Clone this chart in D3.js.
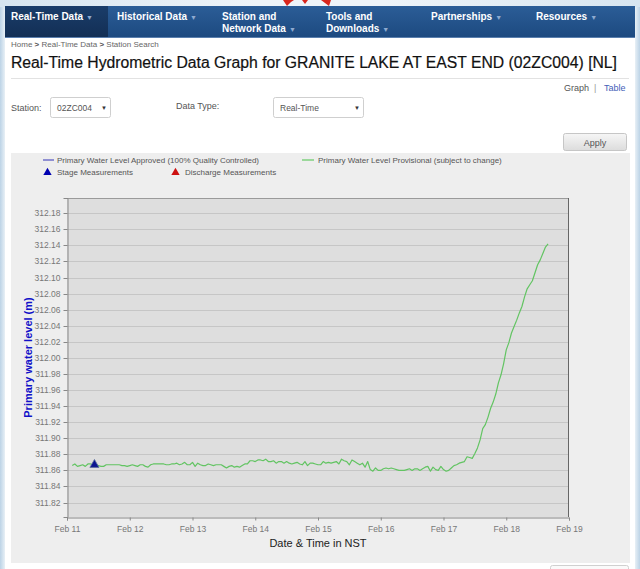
<!DOCTYPE html>
<html>
<head>
<meta charset="utf-8">
<script src="https://cdn.jsdelivr.net/npm/d3@7"></script>
<style>
  html, body { margin: 0; padding: 0; background: #fff; overflow: hidden; }
  svg { display: block; font-family: "Liberation Sans", Arial, sans-serif; }
</style>
</head>
<body>
<svg id="page" width="640" height="569"></svg>
<script>
// ---- Data -------------------------------------------------------------
const stationName = "GRANITE LAKE AT EAST END";
const stationId = "02ZC004";
const navItems = [["Real-Time Data"], ["Historical Data"], ["Station and", "Network Data"],
                  ["Tools and", "Downloads"], ["Partnerships"], ["Resources"]];
const breadcrumb = ["Home", "Real-Time Data", "Station Search"];

// Hourly provisional water level (m), first reading Feb 11 02:00 NST
const seriesStart = "2015-02-11T02:00";
const waterLevel = [
  311.866, 311.868, 311.865, 311.866, 311.867, 311.865, 311.868, 311.868, 311.867, 311.867,
  311.866, 311.865, 311.865, 311.867, 311.867, 311.867, 311.867, 311.867, 311.867, 311.866,
  311.866, 311.865, 311.866, 311.867, 311.866, 311.865, 311.867, 311.867, 311.865, 311.864,
  311.867, 311.868, 311.868, 311.868, 311.868, 311.868, 311.867, 311.867, 311.868, 311.868,
  311.869, 311.867, 311.868, 311.870, 311.867, 311.867, 311.870, 311.865, 311.869, 311.867,
  311.866, 311.866, 311.868, 311.867, 311.866, 311.867, 311.867, 311.867, 311.865, 311.863,
  311.865, 311.866, 311.864, 311.865, 311.864, 311.866, 311.868, 311.868, 311.872, 311.872,
  311.871, 311.873, 311.873, 311.872, 311.874, 311.871, 311.871, 311.872, 311.869, 311.871,
  311.871, 311.869, 311.871, 311.869, 311.868, 311.869, 311.870, 311.868, 311.867, 311.871,
  311.866, 311.869, 311.869, 311.868, 311.867, 311.867, 311.871, 311.869, 311.870, 311.869,
  311.870, 311.871, 311.868, 311.874, 311.872, 311.871, 311.867, 311.873, 311.871, 311.869,
  311.867, 311.869, 311.864, 311.871, 311.861, 311.859, 311.863, 311.860, 311.860, 311.862,
  311.863, 311.862, 311.863, 311.862, 311.861, 311.860, 311.860, 311.860, 311.861, 311.862,
  311.860, 311.862, 311.862, 311.860, 311.862, 311.864, 311.865, 311.859, 311.864, 311.861,
  311.860, 311.865, 311.861, 311.859, 311.860, 311.863, 311.866, 311.867, 311.869, 311.870,
  311.871, 311.877, 311.876, 311.875, 311.881, 311.888, 311.898, 311.912, 311.917, 311.926,
  311.937, 311.945, 311.955, 311.969, 311.979, 311.993, 312.010, 312.019, 312.031, 312.039,
  312.047, 312.056, 312.064, 312.076, 312.086, 312.091, 312.096, 312.106, 312.116, 312.122,
  312.130, 312.138, 312.142
];

const stageTimes = ["2015-02-11T10:30"];
const stageLevels = [311.867];

const yTicks = [311.82, 311.84, 311.86, 311.88, 311.90, 311.92, 311.94, 311.96, 311.98,
                312.00, 312.02, 312.04, 312.06, 312.08, 312.10, 312.12, 312.14, 312.16, 312.18];
const xTickDates = ["2015-02-11", "2015-02-12", "2015-02-13", "2015-02-14", "2015-02-15",
                    "2015-02-16", "2015-02-17", "2015-02-18", "2015-02-19"];
const xTickLabels = ["Feb 11", "Feb 12", "Feb 13", "Feb 14", "Feb 15", "Feb 16", "Feb 17", "Feb 18", "Feb 19"];
const yDomain = [311.802, 312.199];

// ---- Page chrome ------------------------------------------------------
const svg = d3.select("#page");
const defs = svg.append("defs");

function vGrad(id, stops) {
  const g = defs.append("linearGradient").attr("id", id).attr("x1", 0).attr("y1", 0).attr("x2", 0).attr("y2", 1);
  stops.forEach(([o, c]) => g.append("stop").attr("offset", o).attr("stop-color", c));
}
function hGrad(id, stops) {
  const g = defs.append("linearGradient").attr("id", id).attr("x1", 0).attr("y1", 0).attr("x2", 1).attr("y2", 0);
  stops.forEach(([o, c]) => g.append("stop").attr("offset", o).attr("stop-color", c));
}
vGrad("navGrad", [[0, "#2b5d97"], [1, "#1d4a80"]]);
vGrad("navActive", [[0, "#1a3d6a"], [1, "#132f55"]]);
vGrad("btnGrad", [[0, "#f6f6f6"], [1, "#dcdcdc"]]);
hGrad("edgeL", [[0, "#bcd3e6"], [1, "#e8f0f6"]]);
hGrad("edgeR", [[0, "#e8f0f6"], [1, "#bcd3e6"]]);
hGrad("topStrip", [[0, "#d7e5f0"], [0.4, "#eef4f9"], [0.6, "#eef4f9"], [1, "#d7e5f0"]]);

svg.append("rect").attr("width", 640).attr("height", 569).attr("fill", "#fff");
svg.append("rect").attr("x", 0).attr("y", 0).attr("width", 5).attr("height", 569).attr("fill", "url(#edgeL)");
svg.append("rect").attr("x", 635).attr("y", 0).attr("width", 5).attr("height", 569).attr("fill", "url(#edgeR)");
svg.append("rect").attr("x", 0).attr("y", 0).attr("width", 640).attr("height", 7).attr("fill", "url(#topStrip)");
// maple leaf tips peeking above the menu
svg.append("path").attr("d", "M283,0 L287,6 L291,2 L294,0 Z M321,0 L325,3 L329,6 L331,0 Z M302,0 L305,4 L308,0 Z")
  .attr("fill", "#d9261c");

// Navigation bar
svg.append("rect").attr("x", 5).attr("y", 6).attr("width", 630).attr("height", 31).attr("fill", "url(#navGrad)");
svg.append("rect").attr("x", 5).attr("y", 6).attr("width", 103).attr("height", 31).attr("fill", "url(#navActive)");
svg.append("line").attr("x1", 5).attr("x2", 635).attr("y1", 37.5).attr("y2", 37.5).attr("stroke", "#5a7fae");
const navX = [11, 117, 222, 326, 431, 536];
navItems.forEach((lines, i) => {
  const t = svg.append("text").attr("x", navX[i]).attr("fill", "#fff")
    .attr("font-size", 10).attr("font-weight", "bold");
  lines.forEach((s, j) => {
    t.append("tspan").attr("x", navX[i]).attr("y", 19.5 + j * 12).text(s);
    if (j === lines.length - 1) {
      t.append("tspan").attr("dx", 3).attr("font-size", 7).attr("fill", "#8eaad0").text("▼");
    }
  });
});

// Breadcrumb
const bc = svg.append("text").attr("x", 11).attr("y", 47).attr("font-size", 8).attr("fill", "#666");
breadcrumb.forEach((s, i) => {
  if (i > 0) bc.append("tspan").attr("font-weight", "bold").attr("fill", "#555").text(" > ");
  bc.append("tspan").text(s);
});

// Title
svg.append("text").attr("x", 11).attr("y", 68).attr("font-size", 15.8).attr("fill", "#111")
  .attr("stroke", "#111").attr("stroke-width", 0.2)
  .attr("textLength", 606).attr("lengthAdjust", "spacingAndGlyphs")
  .text(`Real-Time Hydrometric Data Graph for ${stationName} (${stationId}) [NL]`);
svg.append("line").attr("x1", 11).attr("x2", 629).attr("y1", 78.5).attr("y2", 78.5).attr("stroke", "#e2e2e2");

// Graph | Table
svg.append("text").attr("x", 564).attr("y", 91).attr("font-size", 9).attr("fill", "#555").text("Graph");
svg.append("text").attr("x", 594).attr("y", 91).attr("font-size", 9).attr("fill", "#999").text("|");
svg.append("text").attr("x", 604).attr("y", 91).attr("font-size", 9).attr("fill", "#4460b8").text("Table");

// Form controls
function selectBox(x, w, label) {
  svg.append("rect").attr("x", x + 0.5).attr("y", 97.5).attr("width", w).attr("height", 20).attr("rx", 2)
    .attr("fill", "#fff").attr("stroke", "#cfcfcf");
  svg.append("text").attr("x", x + 7).attr("y", 111).attr("font-size", 8.5).attr("fill", "#555").text(label);
  svg.append("text").attr("x", x + w - 9).attr("y", 110).attr("font-size", 6).attr("fill", "#333").text("▼");
}
svg.append("text").attr("x", 11).attr("y", 111).attr("font-size", 9).attr("fill", "#555").text("Station:");
selectBox(50, 60, stationId);
svg.append("text").attr("x", 176).attr("y", 109).attr("font-size", 9).attr("fill", "#555").text("Data Type:");
selectBox(273, 90, "Real-Time");

svg.append("rect").attr("x", 563.5).attr("y", 133.5).attr("width", 63).attr("height", 17).attr("rx", 2)
  .attr("fill", "url(#btnGrad)").attr("stroke", "#c6c6c6");
svg.append("text").attr("x", 595).attr("y", 145.5).attr("text-anchor", "middle").attr("font-size", 9)
  .attr("fill", "#555").text("Apply");

// Chart panel
svg.append("rect").attr("x", 11).attr("y", 153).attr("width", 619).attr("height", 410).attr("fill", "#eeeeee");
svg.append("rect").attr("x", 550.5).attr("y", 565.5).attr("width", 78).attr("height", 10).attr("rx", 2)
  .attr("fill", "#fafafa").attr("stroke", "#d0d0d0");

// ---- Legend -----------------------------------------------------------
const lg = svg.append("g").attr("font-size", 8).attr("fill", "#555");
lg.append("line").attr("x1", 43).attr("x2", 54).attr("y1", 160).attr("y2", 160).attr("stroke", "#7070c8").attr("stroke-width", 1.5);
lg.append("text").attr("x", 57).attr("y", 163).text("Primary Water Level Approved (100% Quality Controlled)");
lg.append("line").attr("x1", 302).attr("x2", 314).attr("y1", 160).attr("y2", 160).attr("stroke", "#7fd07f").attr("stroke-width", 1.5);
lg.append("text").attr("x", 318).attr("y", 163).text("Primary Water Level Provisional (subject to change)");
const tri = d3.symbol().type(d3.symbolTriangle).size(30);
lg.append("path").attr("d", tri).attr("transform", "translate(47.5,172.5)").attr("fill", "#0000b0");
lg.append("text").attr("x", 57).attr("y", 175).text("Stage Measurements");
lg.append("path").attr("d", tri).attr("transform", "translate(175.5,172.5)").attr("fill", "#cc1010");
lg.append("text").attr("x", 185).attr("y", 175).text("Discharge Measurements");

// ---- Plot -------------------------------------------------------------
const plot = { left: 67, right: 569, top: 198, bottom: 517 };
const parseT = d3.timeParse("%Y-%m-%dT%H:%M");
const parseD = d3.timeParse("%Y-%m-%d");
const t0 = parseT(seriesStart);
const series = waterLevel.map((v, i) => ({ t: d3.timeHour.offset(t0, i), v }));
const stages = stageTimes.map((s, i) => ({ t: parseT(s), v: stageLevels[i] }));
const tickDates = xTickDates.map(parseD);

const x = d3.scaleTime().domain([tickDates[0], tickDates[tickDates.length - 1]]).range([plot.left, plot.right]);
const y = d3.scaleLinear().domain(yDomain).range([plot.bottom, plot.top]);

svg.append("rect").attr("x", plot.left).attr("y", plot.top)
  .attr("width", plot.right - plot.left).attr("height", plot.bottom - plot.top).attr("fill", "#dedede");

// horizontal grid
svg.append("g").selectAll("line").data(yTicks).join("line")
  .attr("x1", plot.left).attr("x2", plot.right)
  .attr("y1", d => Math.round(y(d)) + 0.5).attr("y2", d => Math.round(y(d)) + 0.5)
  .attr("stroke", "#c6c6c6").attr("stroke-width", 1);

// frame
svg.append("line").attr("x1", plot.left).attr("x2", plot.right).attr("y1", plot.top + 0.5).attr("y2", plot.top + 0.5)
  .attr("stroke", "#9a9a9a");
svg.append("line").attr("x1", plot.right - 0.5).attr("x2", plot.right - 0.5).attr("y1", plot.top).attr("y2", plot.bottom)
  .attr("stroke", "#666");

// axes
const yAxis = d3.axisLeft(y).tickValues(yTicks).tickFormat(d3.format(".2f")).tickSize(4).tickPadding(3);
const gy = svg.append("g").attr("transform", `translate(${plot.left + 0.5},0)`).call(yAxis);
const xAxis = d3.axisBottom(x).tickValues(tickDates).tickFormat((d, i) => xTickLabels[i]).tickSize(3).tickPadding(5);
const gx = svg.append("g").attr("transform", `translate(0,${plot.bottom + 0.5})`).call(xAxis);
[gx, gy].forEach(g => {
  g.select(".domain").attr("stroke", "#888");
  g.selectAll(".tick line").attr("stroke", "#888");
  g.selectAll(".tick text").attr("fill", "#777").attr("font-size", 8.5)
    .attr("font-family", "'Liberation Sans', Arial, sans-serif");
});
gy.selectAll(".tick").attr("transform", d => `translate(0,${Math.round(y(d)) + 0.5})`);

// axis titles
svg.append("text").attr("x", 318).attr("y", 547).attr("text-anchor", "middle").attr("font-size", 11)
  .attr("fill", "#222").text("Date & Time in NST");
svg.append("text").attr("transform", `translate(32,${(plot.top + plot.bottom) / 2}) rotate(-90)`)
  .attr("text-anchor", "middle").attr("font-size", 11).attr("font-weight", "bold")
  .attr("fill", "#1010c8").text("Primary water level (m)");

// provisional water level line
const line = d3.line().x(d => x(d.t)).y(d => y(d.v));
svg.append("path").datum(series).attr("d", line).attr("fill", "none")
  .attr("stroke", "#62c462").attr("stroke-width", 1.2).attr("stroke-linejoin", "round");

// stage measurements
svg.append("g").selectAll("path").data(stages).join("path")
  .attr("d", d3.symbol().type(d3.symbolTriangle).size(36))
  .attr("transform", d => `translate(${x(d.t)},${y(d.v)})`)
  .attr("fill", "#0a1490").attr("stroke", "#5a6e9a").attr("stroke-width", 0.8);
</script>
</body>
</html>
